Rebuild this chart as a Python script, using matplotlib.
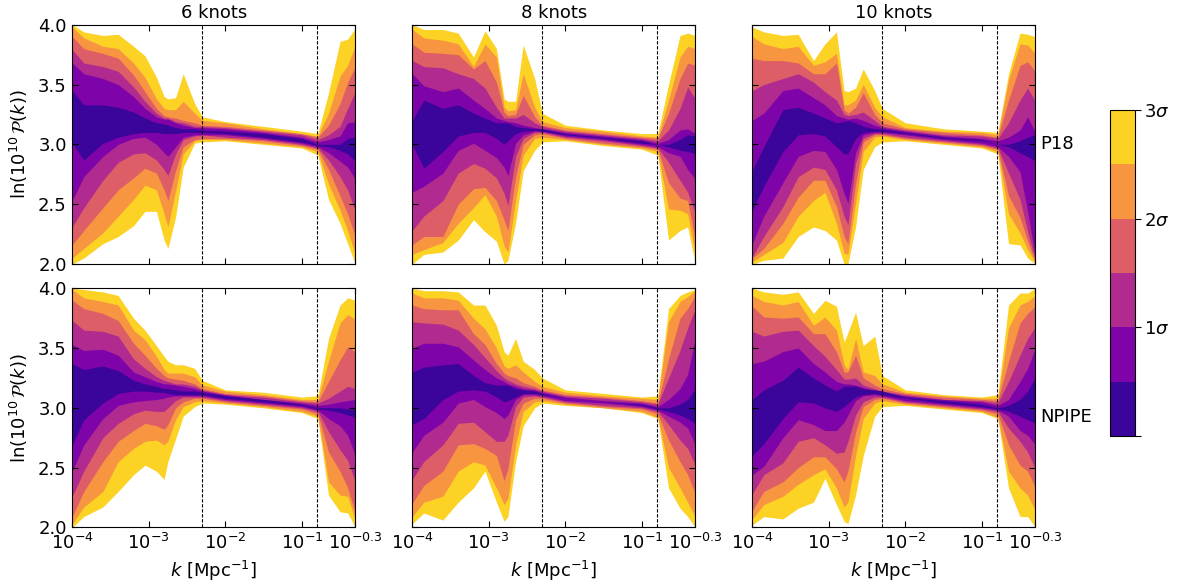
import numpy as np
import matplotlib
matplotlib.use('Agg')
import matplotlib.pyplot as plt
from matplotlib.colors import ListedColormap, BoundaryNorm
from matplotlib.colorbar import ColorbarBase

# knots in log10(k), shared by every panel
LOGK = [-4, -3.85, -3.6, -3.4, -3.2, -3.05, -2.9, -2.8, -2.75, -2.65, -2.55,
        -2.4, -2.3, -2, -1.5, -1, -0.79, -0.65, -0.5, -0.4, -0.3]

# band edges, rows go from 3 sigma in to 0.5 sigma
P18_6_UP = [
    [4.0,3.94,3.91,3.92,3.82,3.74,3.56,3.40,3.38,3.39,3.59,3.34,3.23,3.19,3.15,3.11,3.09,3.43,3.86,3.88,3.97],
    [3.98,3.89,3.82,3.80,3.68,3.56,3.38,3.30,3.29,3.29,3.36,3.26,3.20,3.18,3.13,3.09,3.07,3.26,3.57,3.66,3.83],
    [3.90,3.80,3.76,3.72,3.58,3.44,3.30,3.24,3.23,3.22,3.20,3.18,3.16,3.15,3.12,3.09,3.06,3.16,3.34,3.52,3.65],
    [3.79,3.68,3.65,3.61,3.48,3.36,3.26,3.22,3.22,3.19,3.18,3.15,3.15,3.14,3.11,3.08,3.04,3.08,3.15,3.30,3.44],
    [3.68,3.59,3.55,3.50,3.40,3.30,3.23,3.21,3.21,3.18,3.16,3.14,3.14,3.13,3.10,3.06,3.02,3.04,3.07,3.18,3.19],
    [3.45,3.33,3.33,3.31,3.27,3.22,3.18,3.17,3.16,3.14,3.13,3.13,3.12,3.11,3.09,3.05,3.00,3.00,3.00,3.05,3.06],
]
P18_6_LO = [
    [2.0,2.05,2.17,2.23,2.32,2.44,2.44,2.20,2.13,2.39,2.81,3.01,3.02,3.03,3.00,2.97,2.91,2.54,2.34,2.17,2.0],
    [2.05,2.13,2.26,2.40,2.54,2.66,2.62,2.42,2.31,2.61,2.92,3.03,3.04,3.04,3.01,2.98,2.94,2.67,2.45,2.28,2.08],
    [2.16,2.28,2.47,2.62,2.72,2.80,2.76,2.62,2.53,2.78,2.98,3.04,3.05,3.05,3.03,2.99,2.96,2.79,2.57,2.42,2.23],
    [2.31,2.47,2.70,2.85,2.92,2.93,2.87,2.79,2.74,2.92,3.04,3.07,3.08,3.06,3.04,3.00,2.97,2.87,2.73,2.62,2.44],
    [2.53,2.73,2.90,3.00,3.05,3.06,3.00,2.93,2.90,2.98,3.06,3.08,3.08,3.08,3.05,3.01,2.98,2.93,2.86,2.81,2.71],
    [3.01,2.87,3.01,3.06,3.09,3.10,3.10,3.09,3.09,3.09,3.10,3.10,3.10,3.09,3.06,3.02,2.99,2.98,2.95,2.92,2.86],
]
P18_8_UP = [
    [4.0,3.96,3.96,3.93,3.73,3.95,3.80,3.38,3.36,3.36,3.83,3.55,3.26,3.16,3.12,3.09,3.09,3.50,3.91,3.93,3.91],
    [3.96,3.89,3.87,3.84,3.65,3.84,3.73,3.31,3.28,3.29,3.59,3.31,3.19,3.14,3.11,3.07,3.06,3.37,3.73,3.82,3.80],
    [3.84,3.77,3.76,3.75,3.63,3.70,3.52,3.27,3.24,3.25,3.41,3.23,3.16,3.12,3.09,3.06,3.05,3.26,3.55,3.68,3.66],
    [3.70,3.65,3.64,3.59,3.55,3.47,3.31,3.22,3.22,3.22,3.25,3.18,3.15,3.11,3.08,3.05,3.03,3.12,3.30,3.48,3.38],
    [3.59,3.49,3.44,3.47,3.37,3.30,3.22,3.20,3.19,3.18,3.16,3.14,3.13,3.10,3.07,3.04,3.01,3.04,3.12,3.13,3.09],
    [3.20,3.37,3.30,3.33,3.26,3.22,3.18,3.18,3.18,3.15,3.14,3.13,3.13,3.09,3.06,3.03,3.00,3.00,3.04,3.08,3.07],
]
P18_8_LO = [
    [2.0,2.08,2.10,2.20,2.37,2.27,2.19,2.0,2.03,2.34,2.78,2.95,3.02,3.03,2.99,2.96,2.91,2.20,2.28,2.31,2.0],
    [2.08,2.12,2.18,2.34,2.47,2.58,2.40,2.15,2.10,2.53,2.91,3.05,3.06,3.04,3.00,2.97,2.94,2.46,2.45,2.42,2.08],
    [2.16,2.23,2.23,2.50,2.63,2.64,2.53,2.37,2.28,2.73,3.00,3.08,3.09,3.05,3.01,2.98,2.96,2.68,2.55,2.53,2.20],
    [2.28,2.40,2.53,2.76,2.84,2.80,2.72,2.59,2.49,2.90,3.05,3.10,3.10,3.06,3.03,2.99,2.97,2.85,2.70,2.60,2.42],
    [2.60,2.65,2.76,2.95,3.01,2.95,2.89,2.81,2.74,3.01,3.08,3.11,3.11,3.07,3.04,3.00,2.98,2.93,2.90,2.79,2.71],
    [3.00,2.80,2.94,3.07,3.10,3.10,3.05,3.00,3.03,3.09,3.11,3.12,3.11,3.08,3.05,3.01,3.00,2.98,2.95,2.94,2.92],
]
P18_10_UP = [
    [3.98,3.94,3.91,3.92,3.70,3.84,3.94,3.45,3.44,3.47,3.63,3.45,3.30,3.18,3.13,3.11,3.10,3.59,3.93,3.92,3.90],
    [3.90,3.84,3.80,3.82,3.66,3.69,3.76,3.33,3.33,3.37,3.50,3.31,3.23,3.14,3.11,3.10,3.08,3.54,3.84,3.83,3.76],
    [3.72,3.70,3.70,3.68,3.59,3.59,3.68,3.29,3.26,3.31,3.43,3.25,3.18,3.13,3.10,3.08,3.06,3.37,3.66,3.69,3.61],
    [3.45,3.50,3.55,3.59,3.52,3.44,3.37,3.25,3.24,3.25,3.27,3.20,3.15,3.12,3.08,3.07,3.05,3.18,3.37,3.47,3.36],
    [3.20,3.26,3.45,3.47,3.39,3.33,3.24,3.22,3.21,3.22,3.20,3.16,3.14,3.11,3.07,3.05,3.03,3.06,3.12,3.23,3.10],
    [2.78,2.98,3.29,3.31,3.26,3.22,3.18,3.19,3.20,3.18,3.15,3.13,3.13,3.10,3.06,3.04,3.00,3.00,3.03,3.06,3.08],
]
P18_10_LO = [
    [2.0,2.03,2.05,2.23,2.31,2.28,2.20,2.0,2.0,2.31,2.79,2.98,3.02,3.03,3.00,2.97,2.92,2.17,2.16,2.05,2.0],
    [2.02,2.08,2.18,2.40,2.53,2.60,2.34,2.09,2.08,2.51,2.94,3.06,3.07,3.04,3.01,2.98,2.94,2.42,2.26,2.12,2.01],
    [2.05,2.13,2.34,2.56,2.70,2.70,2.48,2.23,2.17,2.67,3.02,3.08,3.08,3.05,3.02,2.99,2.96,2.57,2.39,2.19,2.02],
    [2.06,2.23,2.48,2.73,2.81,2.79,2.62,2.40,2.33,2.84,3.05,3.09,3.09,3.06,3.03,3.00,2.97,2.76,2.54,2.27,2.03],
    [2.17,2.40,2.68,2.90,2.95,2.94,2.79,2.59,2.51,2.93,3.08,3.10,3.10,3.08,3.04,3.01,2.98,2.90,2.77,2.44,2.06],
    [2.45,2.65,2.94,3.08,3.09,3.07,2.98,2.92,2.92,3.05,3.10,3.11,3.11,3.09,3.05,3.03,3.00,2.98,2.93,2.90,2.86],
]
NPIPE_6_UP = [
    [4.0,3.99,3.97,3.94,3.75,3.65,3.52,3.43,3.39,3.36,3.36,3.33,3.23,3.15,3.13,3.09,3.10,3.58,3.86,3.92,3.90],
    [3.99,3.92,3.89,3.86,3.65,3.57,3.43,3.32,3.29,3.29,3.29,3.26,3.19,3.14,3.11,3.07,3.07,3.39,3.71,3.78,3.74],
    [3.90,3.83,3.79,3.73,3.54,3.44,3.33,3.27,3.25,3.24,3.23,3.20,3.16,3.12,3.10,3.06,3.05,3.22,3.40,3.51,3.47],
    [3.73,3.65,3.64,3.60,3.41,3.33,3.26,3.23,3.22,3.20,3.20,3.18,3.15,3.11,3.09,3.05,3.04,3.08,3.14,3.18,3.16],
    [3.53,3.48,3.49,3.44,3.30,3.26,3.22,3.20,3.20,3.19,3.18,3.16,3.14,3.11,3.07,3.04,3.02,3.03,3.05,3.06,3.07],
    [3.37,3.32,3.35,3.31,3.23,3.20,3.18,3.16,3.16,3.15,3.14,3.14,3.13,3.10,3.07,3.03,3.00,3.00,3.00,2.99,2.99],
]
NPIPE_6_LO = [
    [2.0,2.09,2.17,2.30,2.44,2.52,2.47,2.40,2.55,2.74,2.93,3.01,3.04,3.03,3.00,2.96,2.91,2.27,2.13,2.12,2.0],
    [2.03,2.17,2.30,2.55,2.66,2.72,2.73,2.69,2.72,2.90,3.01,3.05,3.06,3.04,3.01,2.97,2.93,2.38,2.27,2.26,2.06],
    [2.09,2.30,2.55,2.72,2.81,2.87,2.85,2.82,2.86,3.00,3.05,3.08,3.08,3.05,3.02,2.99,2.95,2.63,2.47,2.33,2.12],
    [2.26,2.47,2.75,2.87,2.95,2.98,2.97,2.97,3.00,3.06,3.09,3.09,3.09,3.06,3.03,3.00,2.97,2.80,2.65,2.56,2.38],
    [2.47,2.69,2.91,3.02,3.05,3.06,3.07,3.08,3.09,3.10,3.10,3.10,3.10,3.07,3.04,3.01,2.98,2.91,2.85,2.77,2.60],
    [2.69,2.90,3.04,3.12,3.14,3.14,3.13,3.13,3.12,3.11,3.11,3.11,3.11,3.08,3.05,3.02,2.99,2.98,2.96,2.94,2.92],
]
NPIPE_8_UP = [
    [4.0,3.98,3.98,3.97,3.86,3.86,3.69,3.47,3.44,3.58,3.39,3.32,3.25,3.15,3.12,3.09,3.10,3.83,3.94,3.97,3.99],
    [3.96,3.92,3.92,3.90,3.75,3.66,3.50,3.35,3.33,3.36,3.30,3.22,3.18,3.13,3.10,3.08,3.07,3.72,3.89,3.93,3.98],
    [3.86,3.83,3.82,3.82,3.62,3.53,3.37,3.29,3.27,3.25,3.21,3.18,3.15,3.11,3.09,3.06,3.04,3.41,3.75,3.83,3.94],
    [3.72,3.71,3.70,3.65,3.53,3.42,3.31,3.25,3.23,3.20,3.18,3.16,3.14,3.10,3.08,3.05,3.03,3.25,3.48,3.67,3.83],
    [3.50,3.54,3.54,3.51,3.40,3.32,3.25,3.22,3.20,3.18,3.16,3.15,3.13,3.09,3.06,3.04,3.01,3.07,3.16,3.28,3.58],
    [3.30,3.34,3.36,3.37,3.27,3.21,3.19,3.19,3.19,3.16,3.15,3.14,3.12,3.08,3.05,3.03,3.00,3.00,3.03,3.07,3.16],
]
NPIPE_8_LO = [
    [2.03,2.12,2.06,2.21,2.33,2.47,2.21,2.05,2.09,2.55,2.85,3.00,3.04,3.02,3.00,2.96,2.91,2.33,2.16,2.09,2.0],
    [2.09,2.21,2.26,2.47,2.55,2.52,2.33,2.19,2.24,2.69,2.97,3.05,3.06,3.03,3.00,2.97,2.92,2.50,2.33,2.21,2.09],
    [2.20,2.35,2.47,2.69,2.70,2.66,2.60,2.39,2.49,2.90,3.04,3.08,3.08,3.04,3.01,2.99,2.95,2.73,2.55,2.44,2.28],
    [2.40,2.55,2.69,2.87,2.88,2.80,2.72,2.72,2.77,3.01,3.09,3.10,3.09,3.05,3.02,3.00,2.97,2.86,2.73,2.66,2.52],
    [2.63,2.77,2.88,3.04,3.07,3.01,2.96,2.91,2.94,3.07,3.11,3.11,3.10,3.06,3.04,3.01,2.98,2.93,2.88,2.83,2.69],
    [2.86,2.91,3.07,3.14,3.15,3.14,3.09,3.05,3.06,3.09,3.12,3.12,3.11,3.08,3.05,3.02,2.99,2.97,2.94,2.91,2.87],
]
NPIPE_10_UP = [
    [4.0,3.97,3.95,3.97,3.79,3.90,3.85,3.55,3.63,3.80,3.52,3.60,3.27,3.15,3.11,3.09,3.11,3.86,3.96,3.96,4.0],
    [3.94,3.89,3.86,3.89,3.69,3.76,3.65,3.36,3.32,3.58,3.30,3.27,3.20,3.13,3.10,3.08,3.08,3.67,3.86,3.89,3.94],
    [3.85,3.76,3.75,3.76,3.62,3.62,3.47,3.30,3.30,3.44,3.25,3.19,3.16,3.12,3.09,3.07,3.06,3.39,3.71,3.79,3.85],
    [3.64,3.60,3.64,3.65,3.52,3.43,3.32,3.24,3.24,3.25,3.19,3.16,3.14,3.11,3.07,3.06,3.04,3.22,3.44,3.58,3.68],
    [3.37,3.39,3.47,3.50,3.37,3.30,3.22,3.20,3.20,3.19,3.17,3.14,3.13,3.10,3.07,3.05,3.02,3.07,3.22,3.33,3.50],
    [3.07,3.15,3.23,3.34,3.25,3.19,3.14,3.18,3.18,3.18,3.16,3.15,3.14,3.09,3.06,3.03,3.00,3.02,3.07,3.14,3.26],
]
NPIPE_10_LO = [
    [2.02,2.09,2.07,2.16,2.21,2.41,2.19,2.05,2.03,2.27,2.60,2.93,3.01,3.02,2.99,2.96,2.91,2.33,2.09,2.09,2.0],
    [2.07,2.19,2.26,2.36,2.44,2.49,2.33,2.17,2.21,2.60,2.91,3.04,3.06,3.03,3.00,2.97,2.92,2.47,2.33,2.27,2.14],
    [2.14,2.30,2.38,2.50,2.59,2.59,2.49,2.38,2.47,2.80,3.01,3.07,3.08,3.04,3.01,2.98,2.95,2.69,2.52,2.47,2.33],
    [2.28,2.44,2.54,2.72,2.75,2.69,2.62,2.63,2.72,2.94,3.05,3.09,3.09,3.05,3.02,2.99,2.97,2.83,2.72,2.63,2.49],
    [2.44,2.51,2.75,2.90,2.86,2.81,2.81,2.88,2.94,3.06,3.10,3.11,3.10,3.06,3.03,3.00,2.98,2.93,2.81,2.77,2.69],
    [2.60,2.70,2.91,3.05,3.04,3.00,2.97,3.01,3.04,3.09,3.11,3.12,3.11,3.08,3.04,3.01,2.99,2.97,2.93,2.90,2.87],
]

TITLES = ['6 knots', '8 knots', '10 knots']
ROWS = ['P18', 'NPIPE']
KCUTS = [0.005, 0.16]
XTICKS = [1e-4, 1e-3, 1e-2, 1e-1, 10**-0.3]
XTICKLABELS = [r'$10^{-4}$', r'$10^{-3}$', r'$10^{-2}$', r'$10^{-1}$', r'$10^{-0.3}$']
YTICKS = [2.0, 2.5, 3.0, 3.5, 4.0]
COLORS = ['#fcd225', '#f89540', '#dd5e66', '#b12a90', '#7e03a8', '#3b049a']
CBAR_BOUNDS = [0, 0.5, 1, 1.5, 2, 2.5, 3]
CBAR_TICKS = [0, 1, 2, 3]
CBAR_LABELS = ['', r'$1\sigma$', r'$2\sigma$', r'$3\sigma$']

PANELS = [[(P18_6_UP, P18_6_LO), (P18_8_UP, P18_8_LO), (P18_10_UP, P18_10_LO)],
          [(NPIPE_6_UP, NPIPE_6_LO), (NPIPE_8_UP, NPIPE_8_LO), (NPIPE_10_UP, NPIPE_10_LO)]]

W, H = 1181., 585.
FS = 13


def pxaxes(fig, x0, y0, x1, y1):
    # axes from pixel box, y measured from the top
    return fig.add_axes([x0/W, 1 - y1/H, (x1 - x0)/W, (y1 - y0)/H])


plt.rcParams['font.size'] = FS
plt.rcParams['mathtext.fontset'] = 'dejavusans'
fig = plt.figure(figsize=(W/100, H/100), dpi=100)

lefts = [72.3, 412.3, 752.3]
tops = [(24.7, 264.0), (288.3, 527.3)]
rowtext_y = [0.5, 0.46]
k = 10**np.array(LOGK)

for r in range(2):
    for c in range(3):
        up, lo = PANELS[r][c]
        ax = pxaxes(fig, lefts[c], tops[r][0], lefts[c] + 283, tops[r][1])
        for color, u, l in zip(COLORS, up, lo):
            ax.fill_between(k, l, u, color=color, lw=0)
        for kc in KCUTS:
            ax.axvline(kc, color='k', ls='--', lw=0.8, dashes=(3, 1.5))
        ax.set_xscale('log')
        ax.set_xlim(1e-4, 10**-0.3)
        ax.set_ylim(2, 4)
        ax.minorticks_off()
        ax.set_xticks(XTICKS)
        ax.set_yticks(YTICKS)
        ax.tick_params(direction='in', top=True, right=True, length=4, width=0.8, labelsize=FS, pad=4)
        if r == 1:
            ax.set_xticklabels(XTICKLABELS)
            ax.set_xlabel(r'$k$ [Mpc$^{-1}$]', fontsize=FS, labelpad=4)
        else:
            ax.set_xticklabels([])
            ax.set_title(TITLES[c], fontsize=FS, pad=5)
        if c == 0:
            ax.set_ylabel(r'$\ln(10^{10}\,\mathcal{P}(k))$', fontsize=FS, labelpad=6)
        else:
            ax.set_yticklabels([])
        if c == 2:
            ax.text(1.016, rowtext_y[r], ROWS[r], transform=ax.transAxes, fontsize=FS,
                    va='center', ha='left')

cax = pxaxes(fig, 1110, 110, 1134.7, 436)
cmap = ListedColormap(COLORS[::-1])
norm = BoundaryNorm(CBAR_BOUNDS, cmap.N)
cb = ColorbarBase(cax, cmap=cmap, norm=norm, boundaries=CBAR_BOUNDS, ticks=CBAR_TICKS, spacing='proportional')
cb.ax.set_yticklabels(CBAR_LABELS)
cb.ax.tick_params(labelsize=FS, length=4, width=0.8, pad=3)
cb.ax.minorticks_off()

fig.savefig('out.png', dpi=100)
